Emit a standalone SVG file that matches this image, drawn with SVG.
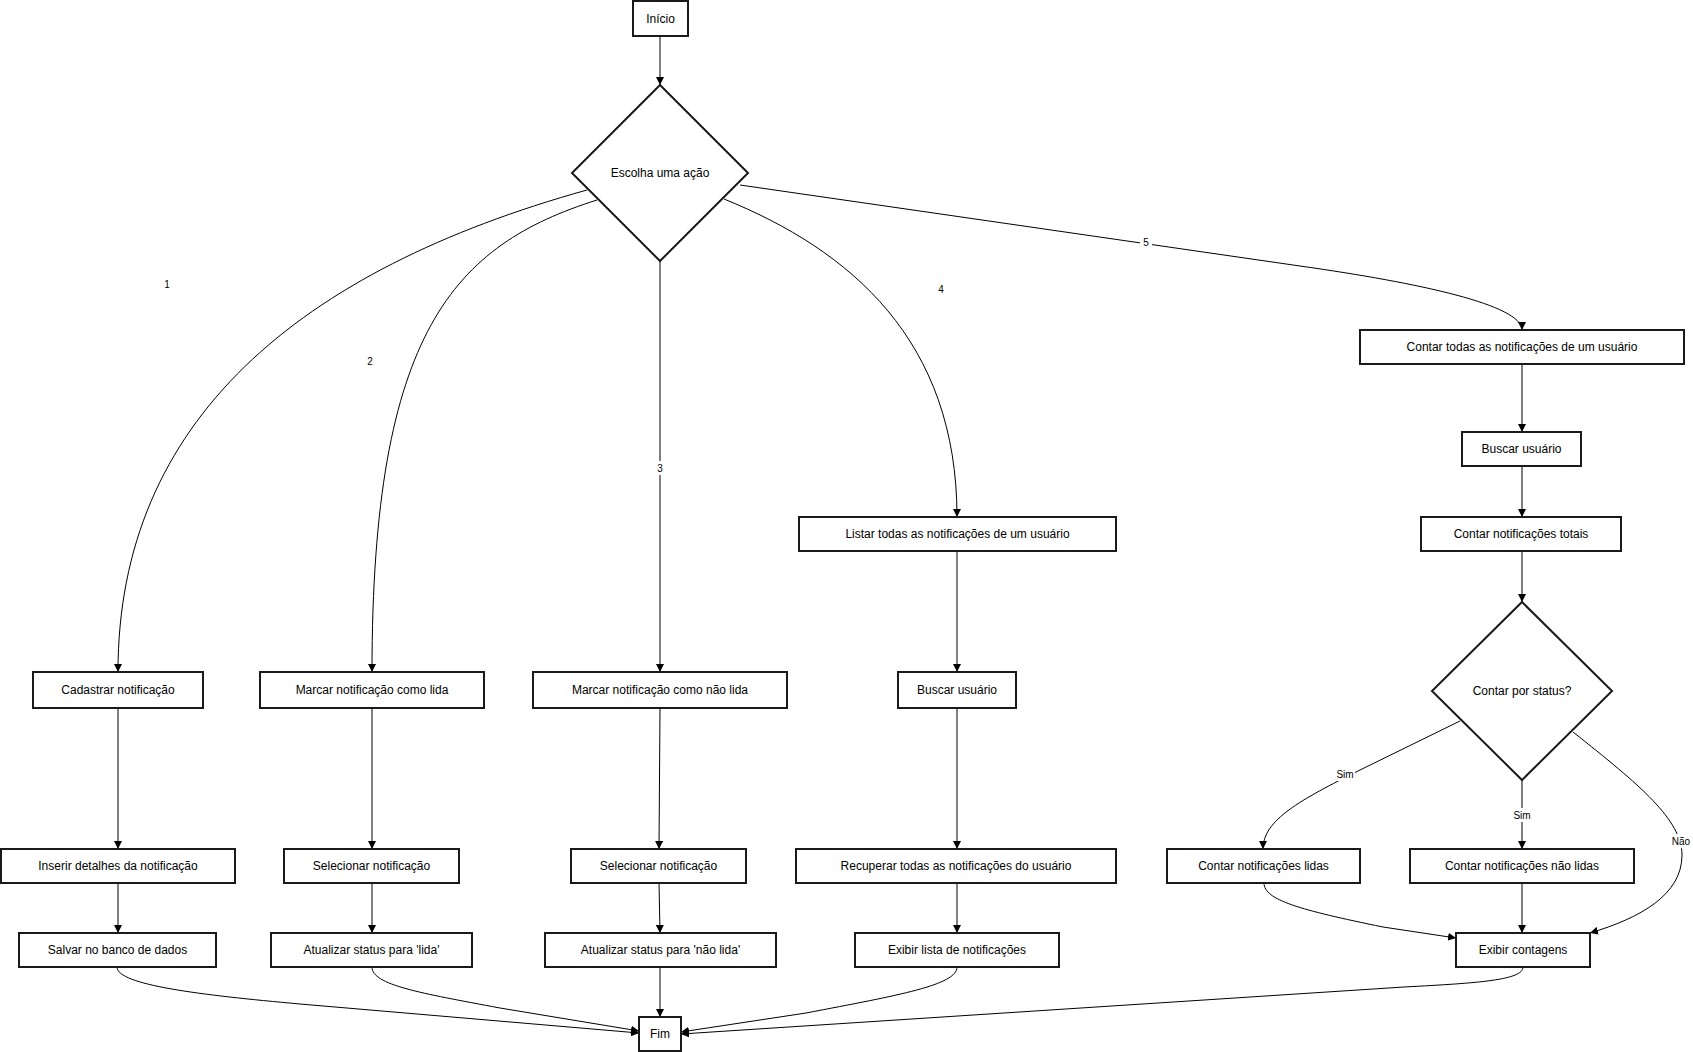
<svg xmlns="http://www.w3.org/2000/svg" width="1693" height="1052" viewBox="0 0 1693 1052">
<defs>
<marker id="arr" viewBox="0 0 10 10" refX="10" refY="5" markerWidth="8" markerHeight="8" orient="auto" markerUnits="userSpaceOnUse"><path d="M0,0 L10,5 L0,10 z" fill="#000"/></marker>
<style>
.box{fill:#fff;stroke:#1a1a1a;stroke-width:2}
.t{font-family:"Liberation Sans",Arial,Helvetica,sans-serif;font-size:12px;fill:#000;text-anchor:middle;dominant-baseline:central}
.e{fill:none;stroke:#000;stroke-width:1;marker-end:url(#arr)}
.lb{font-family:"Liberation Sans",Arial,Helvetica,sans-serif;font-size:10px;fill:#000;text-anchor:middle;dominant-baseline:central}
.bg{fill:#fff}
</style>
</defs>
<rect width="1693" height="1052" fill="#fff"/>
<g id="connectors">
<path class="e" d="M660,36 L660,85"/>
<path class="e" d="M587,190 C300,270 118,420 118,672"/>
<path class="e" d="M597,200 C455,245 372,330 372,672"/>
<path class="e" d="M660,261 L660,672"/>
<path class="e" d="M724,199 C850,250 957,340 957,517"/>
<path class="e" d="M740,185 L1300,266 C1420,283 1522,305 1522,330"/>
<path class="e" d="M118,708 L118,849"/>
<path class="e" d="M118,883 L118,933"/>
<path class="e" d="M372,708 L372,849"/>
<path class="e" d="M372,883 L372,933"/>
<path class="e" d="M660,708 L659,849"/>
<path class="e" d="M659,883 L660,933"/>
<path class="e" d="M957,551 L957,672"/>
<path class="e" d="M957,708 L957,849"/>
<path class="e" d="M957,883 L957,933"/>
<path class="e" d="M1522,364 L1522,432"/>
<path class="e" d="M1522,466 L1522,517"/>
<path class="e" d="M1522,551 L1522,602"/>
<path class="e" d="M1460,721 L1360,770 C1300,800 1263,820 1263,849"/>
<path class="e" d="M1522,780 L1522,849"/>
<path class="e" d="M1573,732 C1640,785 1682,820 1682,855 C1682,895 1640,918 1590,933"/>
<path class="e" d="M1264,883 C1264,900 1300,910 1383,927 L1456,938"/>
<path class="e" d="M1522,883 L1522,933"/>
<path class="e" d="M117,967 C117,985 200,995 300,1004 L639,1033"/>
<path class="e" d="M372,967 C372,985 420,993 500,1008 L639,1031"/>
<path class="e" d="M660,967 L660,1017"/>
<path class="e" d="M957,967 C957,985 900,995 806,1013 L681,1032"/>
<path class="e" d="M1523,967 C1523,980 1480,983 1404,987 L681,1034"/>
<text class="lb" x="167" y="284">1</text>
<text class="lb" x="370" y="361">2</text>
<rect class="bg" x="654" y="461" width="12" height="14"/>
<text class="lb" x="660" y="468">3</text>
<text class="lb" x="941" y="289">4</text>
<rect class="bg" x="1140" y="235" width="12" height="14"/>
<text class="lb" x="1146" y="242">5</text>
<rect class="bg" x="1335" y="767" width="20" height="14"/>
<text class="lb" x="1345" y="774">Sim</text>
<rect class="bg" x="1512" y="808" width="20" height="14"/>
<text class="lb" x="1522" y="815">Sim</text>
<rect class="bg" x="1670" y="834" width="22" height="14"/>
<text class="lb" x="1681" y="841">Não</text>
</g>
<g id="inicio"><rect class="box" x="633" y="1" width="55" height="35"/><text class="t" x="660.5" y="18.5">Início</text></g>
<g id="escolha"><polygon class="box" points="660,85 748,173 660,261 572,173"/><text class="t" x="660" y="173">Escolha uma ação</text></g>
<g id="cadastrar"><rect class="box" x="33" y="672" width="170" height="36"/><text class="t" x="118" y="690">Cadastrar notificação</text></g>
<g id="marcar-lida"><rect class="box" x="260" y="672" width="224" height="36"/><text class="t" x="372" y="690">Marcar notificação como lida</text></g>
<g id="marcar-nao-lida"><rect class="box" x="533" y="672" width="254" height="36"/><text class="t" x="660" y="690">Marcar notificação como não lida</text></g>
<g id="listar"><rect class="box" x="799" y="517" width="317" height="34"/><text class="t" x="957.5" y="534">Listar todas as notificações de um usuário</text></g>
<g id="contar-todas"><rect class="box" x="1360" y="330" width="324" height="34"/><text class="t" x="1522" y="347">Contar todas as notificações de um usuário</text></g>
<g id="buscar-usuario-4"><rect class="box" x="898" y="672" width="118" height="36"/><text class="t" x="957" y="690">Buscar usuário</text></g>
<g id="buscar-usuario-5"><rect class="box" x="1462" y="432" width="119" height="34"/><text class="t" x="1521.5" y="449">Buscar usuário</text></g>
<g id="contar-totais"><rect class="box" x="1421" y="517" width="200" height="34"/><text class="t" x="1521" y="534">Contar notificações totais</text></g>
<g id="contar-status"><polygon class="box" points="1522,602 1612,691 1522,780 1432,691"/><text class="t" x="1522" y="691">Contar por status?</text></g>
<g id="inserir"><rect class="box" x="1" y="849" width="234" height="34"/><text class="t" x="118" y="866">Inserir detalhes da notificação</text></g>
<g id="selecionar-2"><rect class="box" x="284" y="849" width="175" height="34"/><text class="t" x="371.5" y="866">Selecionar notificação</text></g>
<g id="selecionar-3"><rect class="box" x="571" y="849" width="175" height="34"/><text class="t" x="658.5" y="866">Selecionar notificação</text></g>
<g id="recuperar"><rect class="box" x="796" y="849" width="320" height="34"/><text class="t" x="956" y="866">Recuperar todas as notificações do usuário</text></g>
<g id="contar-lidas"><rect class="box" x="1167" y="849" width="193" height="34"/><text class="t" x="1263.5" y="866">Contar notificações lidas</text></g>
<g id="contar-nao-lidas"><rect class="box" x="1410" y="849" width="224" height="34"/><text class="t" x="1522" y="866">Contar notificações não lidas</text></g>
<g id="salvar"><rect class="box" x="19" y="933" width="197" height="34"/><text class="t" x="117.5" y="950">Salvar no banco de dados</text></g>
<g id="atualizar-lida"><rect class="box" x="271" y="933" width="201" height="34"/><text class="t" x="371.5" y="950">Atualizar status para 'lida'</text></g>
<g id="atualizar-nao-lida"><rect class="box" x="545" y="933" width="231" height="34"/><text class="t" x="660.5" y="950">Atualizar status para 'não lida'</text></g>
<g id="exibir-lista"><rect class="box" x="855" y="933" width="204" height="34"/><text class="t" x="957" y="950">Exibir lista de notificações</text></g>
<g id="exibir-contagens"><rect class="box" x="1456" y="933" width="134" height="34"/><text class="t" x="1523" y="950">Exibir contagens</text></g>
<g id="fim"><rect class="box" x="639" y="1017" width="42" height="34"/><text class="t" x="660" y="1034">Fim</text></g>
</svg>
